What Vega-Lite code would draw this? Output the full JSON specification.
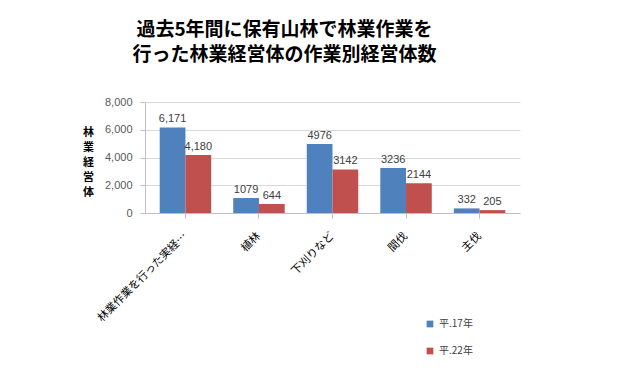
{
  "$schema": "https://vega.github.io/schema/vega-lite/v6.json",
  "autosize": {"type": "none"},
  "width": 375,
  "height": 111,
  "padding": {"left": 145, "top": 102, "right": 120, "bottom": 178},
  "background": "white",
  "title": {
    "text": ["過去5年間に保有山林で林業作業を", "行った林業経営体の作業別経営体数"],
    "font": "Noto Sans CJK JP",
    "fontSize": 19,
    "fontWeight": "bold",
    "lineHeight": 25,
    "color": "#000000",
    "anchor": "middle",
    "dx": -48,
    "offset": 31
  },
  "data": {
    "values": [
      {"作業": "林業作業を行った実経…", "年": "平.17年", "数": 6171, "label": "6,171"},
      {"作業": "林業作業を行った実経…", "年": "平.22年", "数": 4180, "label": "4,180"},
      {"作業": "植林", "年": "平.17年", "数": 1079, "label": "1079"},
      {"作業": "植林", "年": "平.22年", "数": 644, "label": "644"},
      {"作業": "下刈りなど", "年": "平.17年", "数": 4976, "label": "4976"},
      {"作業": "下刈りなど", "年": "平.22年", "数": 3142, "label": "3142"},
      {"作業": "間伐", "年": "平.17年", "数": 3236, "label": "3236"},
      {"作業": "間伐", "年": "平.22年", "数": 2144, "label": "2144"},
      {"作業": "主伐", "年": "平.17年", "数": 332, "label": "332"},
      {"作業": "主伐", "年": "平.22年", "数": 205, "label": "205"}
    ]
  },
  "encoding": {
    "x": {
      "field": "作業",
      "type": "nominal",
      "sort": null,
      "scale": {"paddingInner": 0.3, "paddingOuter": 0.2},
      "axis": {
        "title": null,
        "labelAngle": -45,
        "labelAlign": "right",
        "labelBaseline": "middle",
        "labelPadding": 16,
        "labelFont": "Noto Sans CJK JP",
        "labelFontSize": 11,
        "labelColor": "#000000",
        "labelLimit": 200,
        "domainColor": "#BFBFBF",
        "tickColor": "#BFBFBF",
        "grid": false
      }
    },
    "xOffset": {"field": "年", "type": "nominal", "sort": null},
    "y": {
      "field": "数",
      "type": "quantitative",
      "scale": {"domain": [0, 8000]},
      "axis": {
        "title": ["林", "業", "経", "営", "体"],
        "titleAngle": 0,
        "titleX": -57,
        "titleY": 24,
        "titleAlign": "center",
        "titleBaseline": "top",
        "titleFont": "Noto Sans CJK JP",
        "titleFontSize": 11,
        "titleFontWeight": "bold",
        "titleLineHeight": 15,
        "titleColor": "#000000",
        "values": [0, 2000, 4000, 6000, 8000],
        "format": ",.0f",
        "labelFont": "Liberation Sans",
        "labelFontSize": 11,
        "labelColor": "#595959",
        "labelPadding": 8,
        "domainColor": "#BFBFBF",
        "tickColor": "#BFBFBF",
        "gridColor": "#D9D9D9"
      }
    },
    "color": {
      "field": "年",
      "type": "nominal",
      "sort": null,
      "scale": {"range": ["#4F81BD", "#C0504D"]},
      "legend": {
        "title": null,
        "orient": "none",
        "legendX": 280,
        "legendY": 217,
        "symbolType": "square",
        "symbolSize": 45,
        "symbolStrokeWidth": 0,
        "rowPadding": 17,
        "labelFont": "Noto Sans CJK JP",
        "labelFontSize": 10,
        "labelColor": "#404040"
      }
    }
  },
  "layer": [
    {"mark": {"type": "bar", "stroke": null}},
    {
      "mark": {"type": "text", "dy": -8, "font": "Liberation Sans", "fontSize": 11, "color": "#404040"},
      "encoding": {
        "text": {"field": "label", "type": "nominal"},
        "color": {"value": "#404040"}
      }
    }
  ],
  "config": {"view": {"stroke": null}}
}
